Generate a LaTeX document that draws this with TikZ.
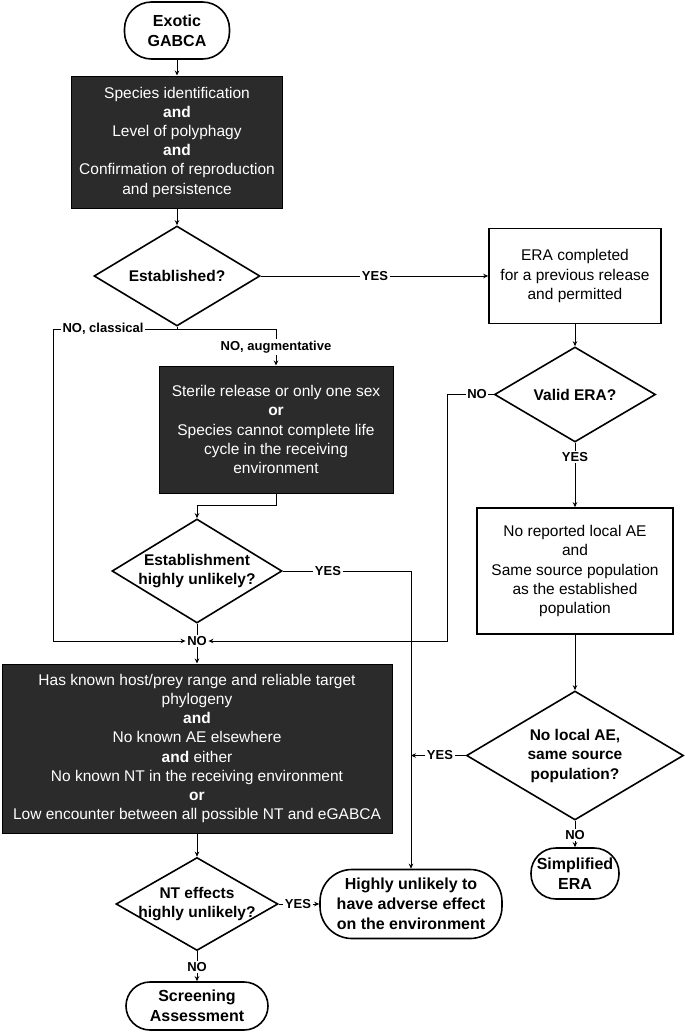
\documentclass[tikz,border=0pt]{standalone}
\usepackage{fontspec}
\setmainfont{Liberation Sans}
\usepackage{xcolor}
\usepackage{tikz}
\usetikzlibrary{positioning,arrows.meta,shapes.geometric}
\definecolor{boxgray}{RGB}{43,43,43}

\newcommand{\boxfont}{\fontsize{15.5}{19.2}\selectfont}
\newcommand{\keyfont}{\bfseries\fontsize{15.5}{19.5}\selectfont}
\newcommand{\lblfont}{\bfseries\fontsize{13}{15}\selectfont}

\begin{document}
\begin{tikzpicture}[x=1pt,y=-1pt]
	\tikzset{
		term/.style={draw, line width=1.6pt, rounded corners=24pt,
			inner sep=0pt, align=center, font=\bfseries\fontsize{16}{20}\selectfont},
		darkbox/.style={draw=black, fill=boxgray, text=white, line width=1pt,
			inner sep=0pt, align=center, font=\boxfont},
		plainbox/.style={draw, line width=1.6pt, inner sep=0pt,
			align=center, font=\boxfont},
		decision/.style={diamond, draw, line width=1.6pt, inner sep=0pt},
		dtext/.style={align=center, inner sep=0pt, font=\keyfont},
		lbl/.style={inner sep=1.5pt, font=\lblfont},
		line/.style={draw, line width=0.9pt},
		arr/.style={line, -{Stealth[length=5pt,width=4.5pt]}}
	}
	\useasboundingbox (0,0) rectangle (685,1034);
	
	% LEFT COLUMN
	\node[term, rounded corners=27pt, minimum width=105pt, minimum height=57pt] (start) at (177,30.5) {Exotic\\GABCA};
	\node[darkbox, minimum width=211pt, minimum height=132pt] (ident) at (177,142)
		{Species identification\\\textbf{and}\\Level of polyphagy\\\textbf{and}\\Confirmation of reproduction\\and persistence};
	\node[decision, minimum width=166pt, minimum height=100pt] (est) at (177,276) {};
	\node[dtext] (est-t) at (est) {Established?};
	
	\node[lbl] (yes1) at (375,276) {YES};
	\node[lbl] (nocl) at (103,329) {NO, classical};
	\node[lbl] (noaug) at (276,347) {NO, augmentative};
	\coordinate (split) at (177,329);
	
	\node[darkbox, minimum width=234pt, minimum height=127pt] (steril) at (276,429.5)
		{Sterile release or only one sex\\\textbf{or}\\Species cannot complete life\\cycle in the receiving\\environment};
	\node[decision, minimum width=170pt, minimum height=104pt] (unl) at (197,571) {};
	\node[dtext] (unl-t) at (unl) {Establishment\\highly unlikely?};
	\node[lbl] (yes2) at (328,571) {YES};
	\coordinate (drop) at (411,571);
	
	\node[lbl] (junc) at (197,641) {NO};
	\coordinate (lftdown) at (53.5,641);
	\coordinate (rgtdown) at (447,641);
	
	\node[darkbox, minimum width=390pt, minimum height=169pt] (host) at (197,748.5)
		{Has known host/prey range and reliable target\\phylogeny\\\textbf{and}\\No known AE elsewhere\\\textbf{and} either\\No known NT in the receiving environment\\\textbf{or}\\Low encounter between all possible NT and eGABCA};
	\node[decision, minimum width=162pt, minimum height=93pt] (nt) at (197,904) {};
	\node[dtext] (nt-t) at (nt) {NT effects\\highly unlikely?};
	\node[lbl] (yes3) at (298,904) {YES};
	\node[lbl] (no3) at (197,967) {NO};
	\node[term, minimum width=142pt, minimum height=48pt] (screen) at (197,1006) {Screening\\Assessment};
	\node[term, rounded corners=32pt, minimum width=182pt, minimum height=69pt] (highly) at (411,904)
		{Highly unlikely to\\have adverse effect\\on the environment};
	
	% RIGHT COLUMN
	\node[plainbox, minimum width=172pt, minimum height=95pt] (era) at (575,276)
		{ERA completed\\for a previous release\\and permitted};
	\node[decision, minimum width=161pt, minimum height=95pt] (valid) at (575,394.5) {};
	\node[dtext] (valid-t) at (valid) {Valid ERA?};
	\node[lbl] (no2) at (477,394.5) {NO};
	\node[lbl] (yes5) at (575,457) {YES};
	\node[plainbox, minimum width=196pt, minimum height=126pt] (same) at (575,571)
		{No reported local AE\\and\\Same source population\\as the established\\population};
	\node[decision, minimum width=217pt, minimum height=129pt] (local) at (575,755.5) {};
	\node[dtext] (local-t) at (local) {No local AE,\\same source\\population?};
	\node[lbl] (yes4) at (440,755.5) {YES};
	\node[lbl] (no4) at (575,835) {NO};
	\node[term, rounded corners=25pt, minimum width=88pt, minimum height=51pt] (simp) at (575,873.5) {Simplified\\ERA};
	
	% CONNECTORS
	\draw[arr] (start) -- (ident);
	\draw[arr] (ident) -- (est);
	\draw[line] (est.east) -- (yes1.west);
	\draw[arr] (yes1.east) -- (era.west);
	\draw[line] (est.south) -- (split);
	\draw[line] (split) -- (nocl.east);
	\draw[line] (split) -| (noaug.north);
	\draw[arr] (noaug.south) -- (steril.north);
	\draw[arr] (nocl.west) -| (lftdown) -- (junc.west);
	\draw[arr] (steril.south) -- ++(0,12) -| (unl.north);
	\draw[line] (unl.east) -- (yes2.west);
	\draw[arr] (yes2.east) -- (drop) -- (highly.north);
	\draw[line] (unl.south) -- (junc.north);
	\draw[arr] (junc.south) -- (host.north);
	\draw[arr] (host) -- (nt);
	\draw[line] (nt.east) -- (yes3.west);
	\draw[arr] (yes3.east) -- (highly.west);
	\draw[line] (nt.south) -- (no3.north);
	\draw[arr] (no3.south) -- (screen.north);
	
	\draw[arr] (era) -- (valid);
	\draw[line] (valid.west) -- (no2.east);
	\draw[arr] (no2.west) -| (rgtdown) -- (junc.east);
	\draw[line] (valid.south) -- (yes5.north);
	\draw[arr] (yes5.south) -- (same.north);
	\draw[arr] (same) -- (local);
	\draw[line] (local.west) -- (yes4.east);
	\draw[arr] (yes4.west) -- (highly.north |- yes4.west);
	\draw[line] (local.south) -- (no4.north);
	\draw[arr] (no4.south) -- (simp.north);
\end{tikzpicture}
\end{document}
